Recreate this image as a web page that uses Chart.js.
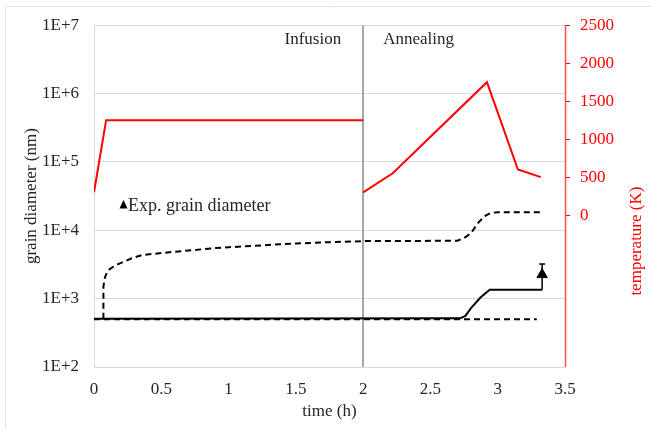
<!DOCTYPE html>
<html>
<head>
<meta charset="utf-8">
<script src="https://cdn.jsdelivr.net/npm/chart.js@4.4.1/dist/chart.umd.min.js"></script>
<style>
  html, body { margin: 0; padding: 0; background: #fff; }
  #wrap { width: 651px; height: 430px; }
</style>
</head>
<body>
<div id="wrap"><canvas id="grainChart" width="651" height="430"></canvas></div>
<script>
// axis ticks
const timeTicks = [0, 0.5, 1, 1.5, 2, 2.5, 3, 3.5];
const diameterTicks = [1e2, 1e3, 1e4, 1e5, 1e6, 1e7];
const diameterTickLabels = ['1E+2', '1E+3', '1E+4', '1E+5', '1E+6', '1E+7'];
const temperatureTicks = [0, 500, 1000, 1500, 2000, 2500];

// furnace temperature (K): infusion stage, then annealing stage
const infusionTime = [0, 0.09, 2.0];
const infusionTemp = [300, 1250, 1250];
const annealTime = [2.0, 2.22, 2.92, 3.15, 3.32];
const annealTemp = [300, 550, 1750, 600, 500];

// simulated grain diameter (nm), upper dashed branch
const coarseTime = [0.07, 0.07, 0.08, 0.10, 0.14, 0.18, 0.28, 0.36, 0.5, 0.75, 0.89, 1.0, 1.25, 1.38, 1.5, 1.75, 2.0, 2.25, 2.5, 2.70, 2.75, 2.80, 2.85, 2.90, 2.95, 3.0, 3.33];
const coarseDiameter = [510, 1500, 2000, 2550, 2900, 3200, 3900, 4350, 4650, 5150, 5480, 5650, 6000, 6260, 6400, 6700, 6940, 6980, 7000, 7050, 7700, 9000, 12500, 16000, 18000, 18300, 18300];
// lower dashed branch
const fineTime = [0, 3.29];
const fineDiameter = [500, 500];
// solid branch
const meanTime = [0, 2.72, 2.76, 2.80, 2.87, 2.94, 3.33];
const meanDiameter = [510, 515, 560, 720, 1030, 1350, 1350];

// measured grain diameter with its error bar
const expTime = [3.33];
const expDiameter = [2250];
const expLow = [1350];
const expHigh = [3200];

const stageSplit = 2;
const serif = 'Liberation Serif';
const textColor = '#262626';
const red = '#ff0000';

const pts = (xs, ys) => xs.map((x, i) => ({x, y: ys[i]}));

const stagePlugin = {
    id: 'stages',
    beforeDatasetsDraw(chart) {
        const {ctx, chartArea: a, scales: {x, y}} = chart;
        const xs = Math.round(x.getPixelForValue(stageSplit));
        ctx.save();
        ctx.strokeStyle = '#a6a6a6';
        ctx.lineWidth = 2;
        ctx.beginPath();
        ctx.moveTo(xs, a.top);
        ctx.lineTo(xs, a.bottom);
        ctx.stroke();

        // error bar behind the measured point
        ctx.strokeStyle = '#000';
        ctx.lineWidth = 1.5;
        expTime.forEach((t, i) => {
            const px = x.getPixelForValue(t);
            const top = y.getPixelForValue(expHigh[i]);
            const bot = y.getPixelForValue(expLow[i]);
            ctx.beginPath();
            ctx.moveTo(px, bot);
            ctx.lineTo(px, top);
            ctx.moveTo(px - 3, top);
            ctx.lineTo(px + 3, top);
            ctx.stroke();
        });
        ctx.restore();
    },
    afterDraw(chart) {
        const {ctx, chartArea: a, scales: {x, y2}} = chart;
        const xs = x.getPixelForValue(stageSplit);
        ctx.save();

        // outer frame
        ctx.strokeStyle = '#e4e4e4';
        ctx.lineWidth = 1;
        ctx.beginPath();
        ctx.moveTo(5.5, 430);
        ctx.lineTo(5.5, 6.5);
        ctx.lineTo(651, 6.5);
        ctx.stroke();

        // temperature axis line
        ctx.strokeStyle = '#ff5050';
        ctx.lineWidth = 1.5;
        ctx.beginPath();
        ctx.moveTo(Math.round(y2.left) + 0.5, a.top);
        ctx.lineTo(Math.round(y2.left) + 0.5, a.bottom);
        ctx.stroke();

        // stage names
        ctx.font = `17px "${serif}"`;
        ctx.fillStyle = textColor;
        ctx.textBaseline = 'middle';
        ctx.textAlign = 'right';
        ctx.fillText('Infusion', xs - 22, 40);
        ctx.textAlign = 'left';
        ctx.fillText('Annealing', xs + 20, 40);

        // legend entry
        ctx.fillStyle = '#000';
        ctx.beginPath();
        ctx.moveTo(123.5, 200);
        ctx.lineTo(127.5, 208.5);
        ctx.lineTo(119.5, 208.5);
        ctx.closePath();
        ctx.fill();
        ctx.font = `18px "${serif}"`;
        ctx.fillStyle = textColor;
        ctx.fillText('Exp. grain diameter', 128, 206);

        // right axis title, read bottom to top
        ctx.font = `17px "${serif}"`;
        ctx.translate(637, (y2.top + y2.bottom) / 2 + 45);
        ctx.rotate(-Math.PI / 2);
        ctx.textAlign = 'center';
        ctx.fillStyle = red;
        ctx.fillText('temperature (K)', 0, 0);
        ctx.restore();
    }
};

new Chart(document.getElementById('grainChart'), {
    type: 'line',
    data: {
        datasets: [
            {data: pts(infusionTime, infusionTemp), yAxisID: 'y2', borderColor: red, borderWidth: 2},
            {data: pts(annealTime, annealTemp), yAxisID: 'y2', borderColor: red, borderWidth: 2},
            {data: pts(fineTime, fineDiameter), yAxisID: 'y', borderColor: '#000', borderWidth: 2, borderDash: [6, 4]},
            {data: pts(meanTime, meanDiameter), yAxisID: 'y', borderColor: '#000', borderWidth: 2},
            {data: pts(coarseTime, coarseDiameter), yAxisID: 'y', borderColor: '#000', borderWidth: 2, borderDash: [6, 4]},
            {
                data: pts(expTime, expDiameter), yAxisID: 'y', showLine: false,
                pointStyle: 'triangle', pointRadius: 6, pointBackgroundColor: '#000', pointBorderColor: '#000'
            }
        ]
    },
    options: {
        responsive: false,
        animation: false,
        devicePixelRatio: 1,
        layout: {padding: {top: 22, left: 0, right: 0, bottom: 0}},
        elements: {point: {radius: 0}, line: {tension: 0, fill: false}},
        plugins: {legend: {display: false}, tooltip: {enabled: false}},
        scales: {
            x: {
                type: 'linear',
                min: timeTicks[0],
                max: timeTicks[timeTicks.length - 1],
                afterBuildTicks: s => { s.ticks = timeTicks.map(value => ({value})); },
                afterFit: s => { s.height = 63; },
                grid: {display: false},
                border: {color: '#d9d9d9'},
                ticks: {color: textColor, font: {family: serif, size: 17}, padding: 4, maxRotation: 0, callback: v => String(v)},
                title: {display: true, text: 'time (h)', color: textColor, font: {family: serif, size: 17}, padding: {top: 0, bottom: 8}}
            },
            y: {
                type: 'logarithmic',
                position: 'left',
                min: diameterTicks[0],
                max: diameterTicks[diameterTicks.length - 1],
                afterBuildTicks: s => { s.ticks = diameterTicks.map(value => ({value})); },
                afterFit: s => { s.width = 94; },
                grid: {color: '#d9d9d9', drawTicks: false},
                border: {color: '#d9d9d9'},
                ticks: {
                    color: textColor, font: {family: serif, size: 17}, padding: 15,
                    callback: v => diameterTickLabels[diameterTicks.indexOf(v)]
                },
                title: {display: true, text: 'grain diameter (nm)', color: textColor, font: {family: serif, size: 17}, padding: {top: 21, bottom: 0}}
            },
            y2: {
                type: 'linear',
                position: 'right',
                min: -2000,
                max: 2500,
                afterBuildTicks: s => {
                    const all = [];
                    for (let v = -2000; v <= 2500; v += 500) all.push({value: v});
                    s.ticks = all;
                },
                afterFit: s => { s.width = 86; },
                grid: {
                    drawOnChartArea: false, drawTicks: true, tickLength: 5,
                    tickColor: c => temperatureTicks.includes(c.tick.value) ? red : 'rgba(0,0,0,0)'
                },
                border: {display: false},
                ticks: {
                    color: red, font: {family: serif, size: 17}, padding: 10,
                    callback: v => temperatureTicks.includes(v) ? String(v) : ''
                }
            }
        }
    },
    plugins: [stagePlugin]
});
</script>
</body>
</html>
